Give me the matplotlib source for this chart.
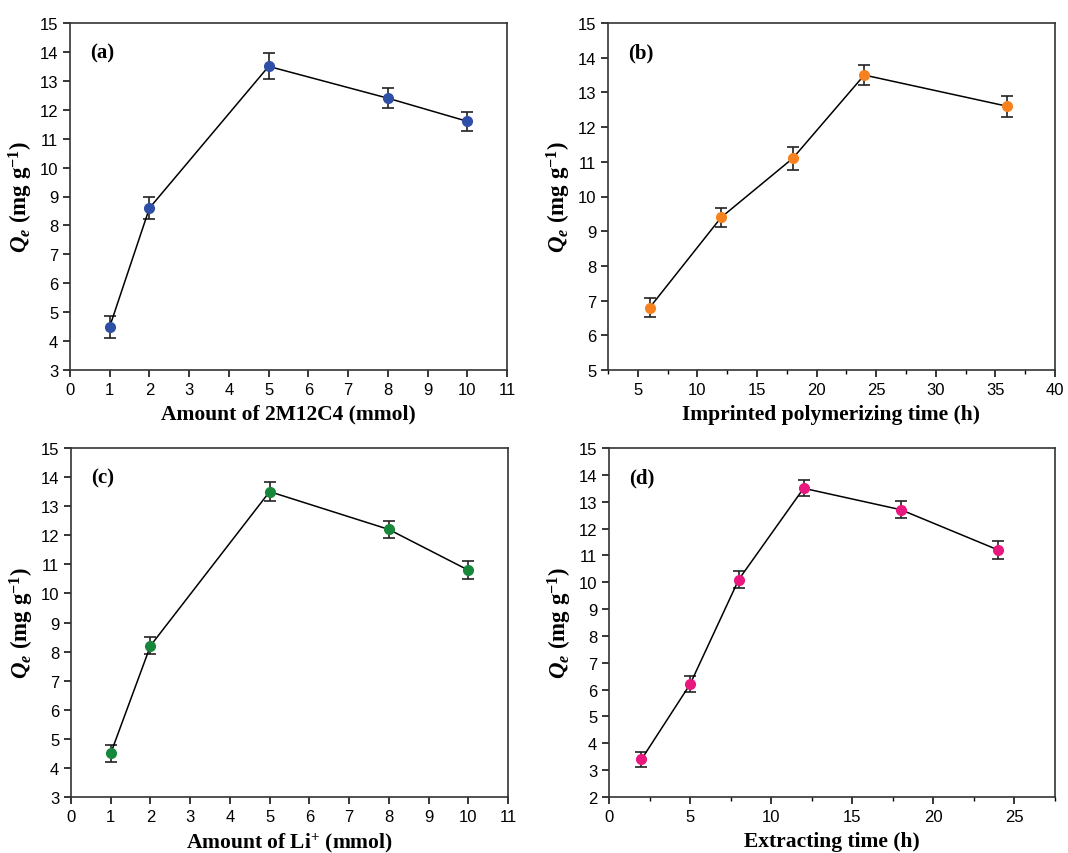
import numpy as np
import matplotlib
matplotlib.use("Agg")
import matplotlib.pyplot as plt
from matplotlib.ticker import MultipleLocator

plt.rcParams['font.family'] = ['Liberation Sans', 'DejaVu Sans']
plt.rcParams['mathtext.fontset'] = 'custom'
plt.rcParams['mathtext.rm'] = 'Liberation Serif:bold'
plt.rcParams['mathtext.it'] = 'Liberation Serif:bold:italic'
plt.rcParams['mathtext.bf'] = 'Liberation Serif:bold'

# (a) amount of 2M12C4
a_x = [1, 2, 5, 8, 10]
a_y = [4.5, 8.6, 13.5, 12.4, 11.6]
a_err = [0.38, 0.38, 0.45, 0.35, 0.33]

# (b) imprinted polymerizing time
b_x = [6, 12, 18, 24, 36]
b_y = [6.8, 9.4, 11.1, 13.5, 12.6]
b_err = [0.28, 0.28, 0.33, 0.28, 0.3]

# (c) amount of Li+
c_x = [1, 2, 5, 8, 10]
c_y = [4.5, 8.2, 13.5, 12.2, 10.8]
c_err = [0.28, 0.3, 0.33, 0.3, 0.3]

# (d) extracting time
d_x = [2, 5, 8, 12, 18, 24]
d_y = [3.4, 6.2, 10.1, 13.5, 12.7, 11.2]
d_err = [0.28, 0.3, 0.33, 0.3, 0.32, 0.35]

ylabel = r'$Q_e\ \mathrm{(mg\ g^{-1})}$'

fig = plt.figure(figsize=(10.68, 8.54), dpi=100)
W, H = 1068, 854

def make_ax(l, t, r, b):
    return fig.add_axes([l / W, 1 - b / H, (r - l) / W, (b - t) / H])

panels = [
    dict(pos=(70, 24, 507, 371), x=a_x, y=a_y, err=a_err, color='#2f4fa6', label='(a)',
         xlabel='Amount of 2M12C4 (mmol)', xlim=(0, 11), ylim=(3, 15), xmaj=1, xmin=None),
    dict(pos=(608, 24, 1055, 371), x=b_x, y=b_y, err=b_err, color='#f5821f', label='(b)',
         xlabel='Imprinted polymerizing time (h)', xlim=(2.5, 40), ylim=(5, 15), xmaj=5, xmin=2.5),
    dict(pos=(71, 449, 508, 798), x=c_x, y=c_y, err=c_err, color='#16873b', label='(c)',
         xlabel=r'Amount of Li$^{+}$ (mmol)', xlim=(0, 11), ylim=(3, 15), xmaj=1, xmin=None),
    dict(pos=(609, 449, 1055, 798), x=d_x, y=d_y, err=d_err, color='#e8187f', label='(d)',
         xlabel='Extracting time (h)', xlim=(0, 27.5), ylim=(2, 15), xmaj=5, xmin=2.5),
]

for p in panels:
    ax = make_ax(*p['pos'])
    ax.errorbar(p['x'], p['y'], yerr=p['err'], color='black', lw=1.1,
                ecolor='#222222', elinewidth=1.2, capsize=4, capthick=1.2,
                marker='o', markersize=7, mfc=p['color'], mec=p['color'], zorder=3)
    ax.set_xlim(*p['xlim'])
    ax.set_ylim(*p['ylim'])
    ax.xaxis.set_major_locator(MultipleLocator(p['xmaj']))
    if p['xmin']:
        ax.xaxis.set_minor_locator(MultipleLocator(p['xmin']))
    ax.yaxis.set_major_locator(MultipleLocator(1))
    ax.tick_params(which='major', direction='out', length=5, width=1.1,
                   labelsize=12, top=False, right=False)
    ax.tick_params(which='minor', direction='out', length=3, width=1.0)
    for s in ax.spines.values():
        s.set_linewidth(1.2)
        s.set_color('#333333')
    ax.set_xlabel(p['xlabel'], fontsize=15.5, fontweight='bold',
                  family='Liberation Serif', labelpad=5)
    ax.set_ylabel(ylabel, fontsize=16.5, labelpad=3)
    ax.text(0.045, 0.9, p['label'], transform=ax.transAxes, fontsize=15,
            fontweight='bold', family='Liberation Serif')

fig.savefig('out.png', dpi=100)
